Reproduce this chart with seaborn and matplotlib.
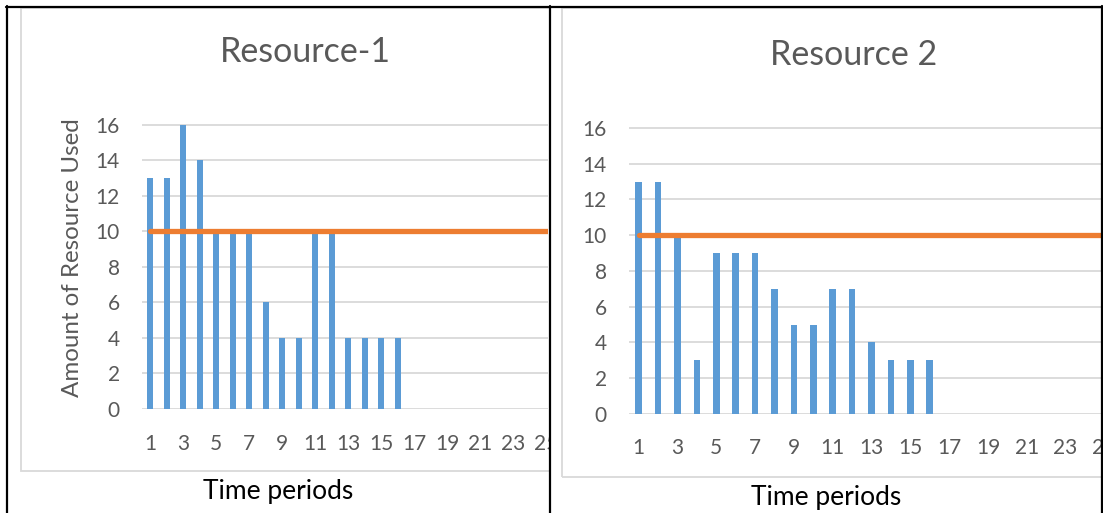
import matplotlib
matplotlib.use("Agg")
import matplotlib.pyplot as plt
import seaborn as sns
from matplotlib.patches import Rectangle
from matplotlib.lines import Line2D

# data
periods = list(range(1, 31))
usage_r1 = [13, 13, 16, 14, 10, 10, 10, 6, 4, 4, 10, 10, 4, 4, 4, 4]
usage_r2 = [13, 13, 10, 3, 9, 9, 9, 7, 5, 5, 7, 7, 4, 3, 3, 3]
limit = [10, 10, 10, 10, 10, 10, 10, 10, 10, 10, 10, 10, 10, 10, 10,
         10, 10, 10, 10, 10, 10, 10, 10, 10, 10, 10, 10, 10, 10, 10]
titles = ["Resource-1", "Resource 2"]
y_label = "Amount of Resource Used"
x_label = "Time periods"

BLUE = "#5B9BD5"
ORANGE = "#ED7D31"
GRID = "#D9D9D9"
TXT = "#595959"

sns.set_theme(style="white")
plt.rcParams["font.family"] = ["Lato", "DejaVu Sans"]

W, H = 1103, 513
fig = plt.figure(figsize=(W / 100, H / 100), dpi=100)


def px_box(x0, y0, x1, y1):
    # pixel box (top-left origin) -> figure fraction rect
    return [x0 / W, 1 - y1 / H, (x1 - x0) / W, (y1 - y0) / H]


def fx(x):
    return x / W


def fy(y):
    return 1 - y / H


def draw_chart(ax, usage, step_px, width_px):
    sns.barplot(x=periods[:len(usage)], y=usage, native_scale=True, width=0.34,
                color=BLUE, saturation=1, linewidth=0, ax=ax)
    sns.lineplot(x=periods, y=limit, color=ORANGE, lw=3.8, ax=ax,
                 solid_capstyle="round")
    ax.set_facecolor("none")
    ax.set_yticks(range(0, 17, 2))
    ax.set_xticks(periods[::2])
    ax.set_xticklabels([str(p) for p in periods[::2]])
    ax.set_xlim(0.5, 0.5 + width_px / step_px)
    ax.set_ylim(0, 16.05)
    ax.grid(axis="y", color=GRID, lw=1.3)
    ax.set_axisbelow(True)
    sns.despine(ax=ax, left=True, bottom=True)
    ax.tick_params(length=0, labelsize=15, labelcolor=TXT)
    ax.tick_params(axis="y", pad=16)
    ax.tick_params(axis="x", pad=18)
    ax.set_xlabel("")
    ax.set_ylabel("")


# left panel
ax1 = fig.add_axes(px_box(142, 124, 548, 409), zorder=1)
draw_chart(ax1, usage_r1, 16.5, 548 - 142)
fig.patches.append(Rectangle((fx(21), fy(471)), fx(700), fy(8) - fy(471),
                             transform=fig.transFigure, fill=False,
                             ec=GRID, lw=1.3, zorder=1.5))
fig.text(fx(305), fy(52), titles[0], ha="center", va="center",
         fontsize=24.5, color=TXT, zorder=3)
fig.text(fx(73), fy(258), y_label, ha="center", va="center", rotation=90,
         fontsize=17.4, color=TXT, zorder=3)
fig.text(fx(278), fy(491), x_label, ha="center", va="center",
         fontsize=19, color="black", zorder=3)

# right panel covers whatever of the left chart spills past the divider
fig.patches.append(Rectangle((fx(549), 0), fx(W - 549), 1,
                             transform=fig.transFigure, fc="white",
                             ec="none", zorder=2))
ax2 = fig.add_axes(px_box(629, 127, 1125, 414), zorder=3)
draw_chart(ax2, usage_r2, 19.4, 1125 - 629)
ax2.tick_params(axis="x", pad=17)
fig.patches.append(Rectangle((fx(562), fy(477)), fx(700), fy(8) - fy(477),
                             transform=fig.transFigure, fill=False,
                             ec=GRID, lw=1.3, zorder=4))
fig.text(fx(854), fy(55), titles[1], ha="center", va="center",
         fontsize=24.5, color=TXT, zorder=4)
fig.text(fx(826), fy(497), x_label, ha="center", va="center",
         fontsize=19, color="black", zorder=4)

# table cell borders
for xs, ys in [([6, W], [6.5, 6.5]), ([6.5, 6.5], [6, H]),
               ([549.5, 549.5], [6, H]), ([1101.5, 1101.5], [6, H])]:
    fig.lines.append(Line2D([fx(v) for v in xs], [fy(v) for v in ys],
                            transform=fig.transFigure, color="black",
                            lw=1.6, zorder=5))

fig.savefig("out.png", dpi=100)
